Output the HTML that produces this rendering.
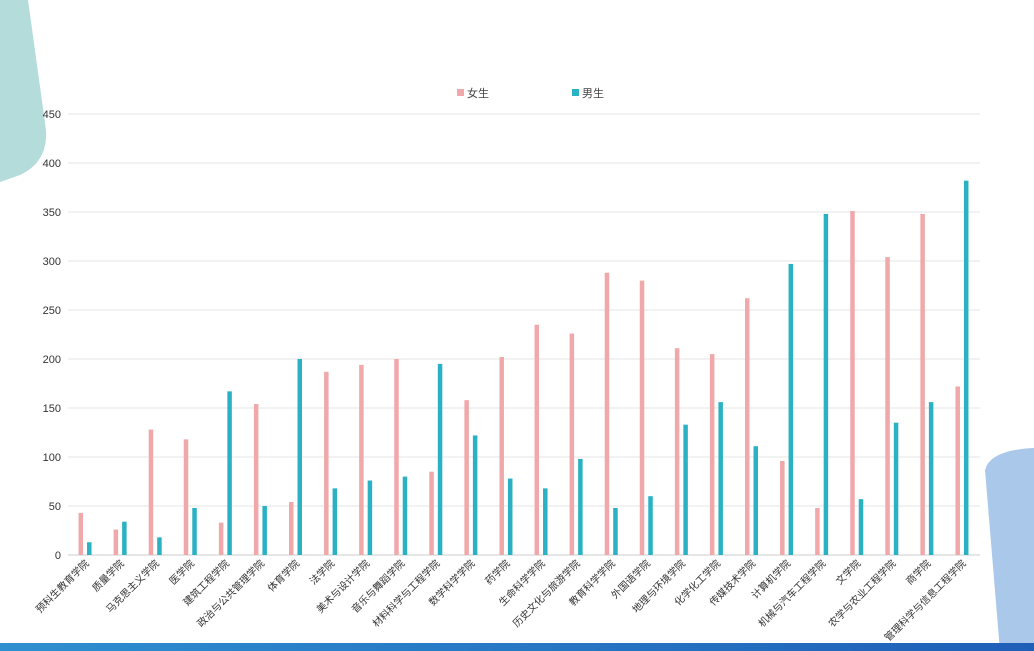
<!DOCTYPE html>
<html><head><meta charset="utf-8"><style>
body{margin:0;width:1034px;height:651px;overflow:hidden;background:#fff;font-family:"Liberation Sans","Noto Sans CJK SC",sans-serif;}
svg{display:block}
</style></head><body>
<svg id="c" width="1034" height="651">
<defs><linearGradient id="bb" x1="0" x2="1"><stop offset="0" stop-color="#2f8fd0"/><stop offset="1" stop-color="#1f5fb8"/></linearGradient></defs>
<path d="M0,0 L28,0 L46,130 Q48,162 20,175 L0,182 Z" fill="#b4dcdb"/>
<path d="M985,470 Q990,450 1034,448 L1034,651 L1000,651 Z" fill="#aac8ea"/>
<rect x="0" y="643" width="1034" height="8" fill="url(#bb)"/>
<g>
<rect x="457" y="89" width="7" height="7" fill="#f0a8aa"/><text x="467" y="97" font-size="11" fill="#444">女生</text>
<rect x="572" y="89" width="7" height="7" fill="#2ab2c4"/><text x="582" y="97" font-size="11" fill="#444">男生</text>
</g>
<g id="grid"></g><g id="bars"></g><g id="xl"></g>
</svg>
<script>
const categories=["预科生教育学院","质量学院","马克思主义学院","医学院","建筑工程学院","政治与公共管理学院","体育学院","法学院","美术与设计学院","音乐与舞蹈学院","材料科学与工程学院","数学科学学院","药学院","生命科学学院","历史文化与旅游学院","教育科学学院","外国语学院","地理与环境学院","化学化工学院","传媒技术学院","计算机学院","机械与汽车工程学院","文学院","农学与农业工程学院","商学院","管理科学与信息工程学院"];
const female=[43,26,128,118,33,154,54,187,194,200,85,158,202,235,226,288,280,211,205,262,96,48,351,304,348,172];
const male=[13,34,18,48,167,50,200,68,76,80,195,122,78,68,98,48,60,133,156,111,297,348,57,135,156,382];
const yTicks=[0,50,100,150,200,250,300,350,400,450];
const NS="http://www.w3.org/2000/svg";
const x0=68,x1=980,yB=555,yT=114,ymax=450;
const y=v=>yB-(v/ymax)*(yB-yT);
const bw=(x1-x0)/categories.length;
const xc=i=>x0+bw*(i+0.5);
function mk(t,a,p){const e=document.createElementNS(NS,t);for(const k in a)e.setAttribute(k,a[k]);p.appendChild(e);return e;}
const g=document.getElementById('grid');
yTicks.forEach(t=>{
 const l=mk('line',{x1:x0,x2:x1,y1:y(t),y2:y(t),stroke:t===0?'#ccc':'#e6e6e6','stroke-width':1},g);
 
 
 const tx=mk('text',{x:61,y:y(t)+4,'text-anchor':'end','font-size':11,fill:'#333'},g);
 
 
 tx.textContent=t;
});
const b=document.getElementById('bars'),xl=document.getElementById('xl');
categories.forEach((c,i)=>{
 const cx=xc(i);
 const f=mk('rect',{x:cx-7,y:y(female[i]),width:4.5,height:yB-y(female[i]),fill:'#f0a8aa'},b);
 
 
 const m=mk('rect',{x:cx+1.5,y:y(male[i]),width:4.5,height:yB-y(male[i]),fill:'#2ab2c4'},b);
 
 
 const t=mk('text',{x:cx+4,y:564,'text-anchor':'end','font-size':10,fill:'#333',transform:`rotate(-45 ${cx+4} 564)`},xl);
 
 
 t.textContent=c;
});
</script>
</body></html>
